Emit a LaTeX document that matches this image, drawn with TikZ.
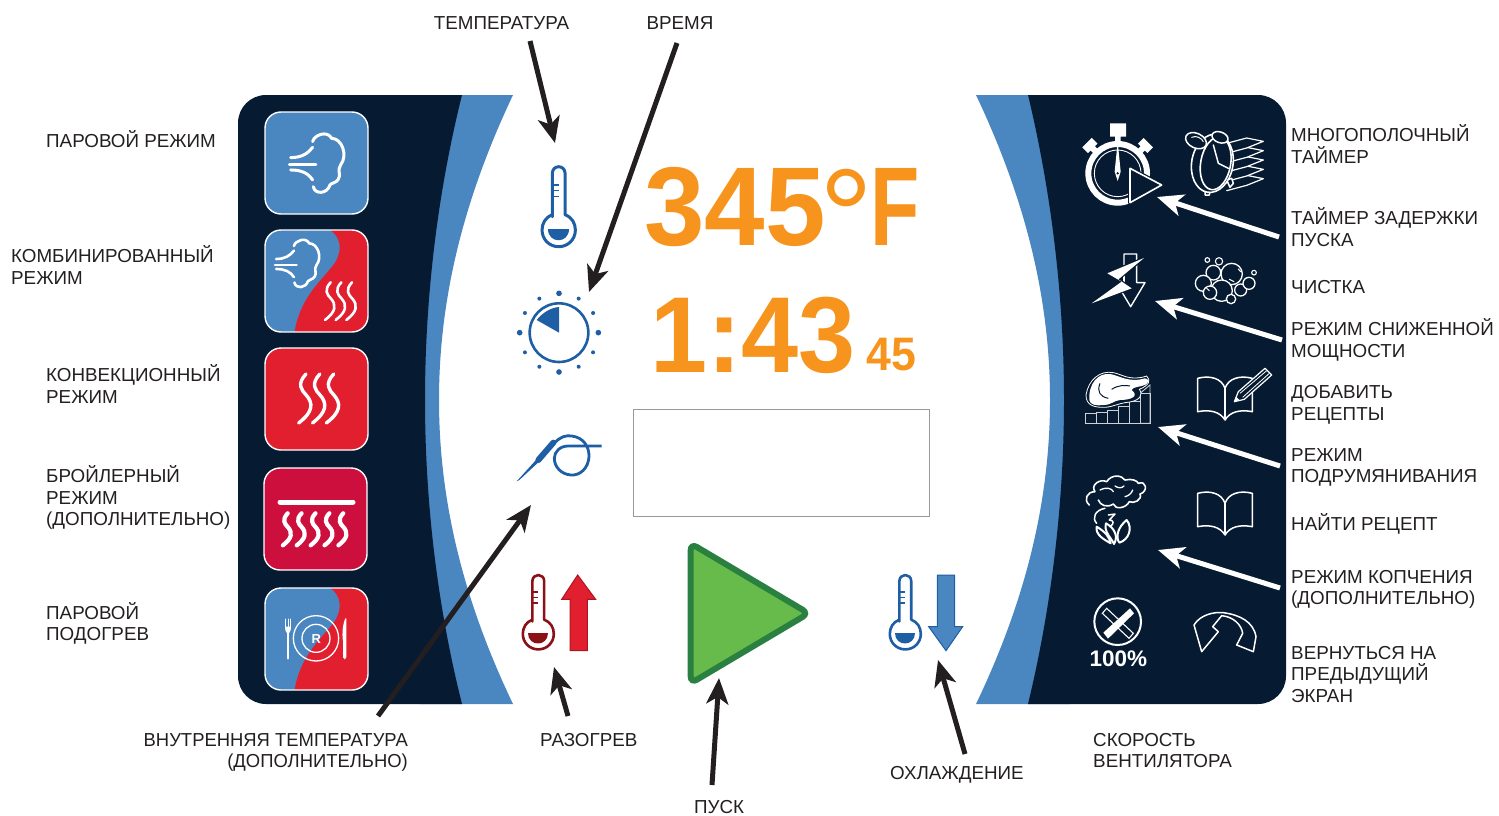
\documentclass[tikz,border=0pt]{standalone}
\usepackage{fontspec}
\setmainfont{Liberation Sans}
\usetikzlibrary{arrows.meta}
\definecolor{navy}{HTML}{061A31}
\definecolor{panelblue}{HTML}{4A86C0}
\definecolor{hotred}{HTML}{E11F2E}
\definecolor{crimson}{HTML}{CC0F3D}
\definecolor{iconblue}{HTML}{1E5EA4}
\definecolor{darkred}{HTML}{8B1117}
\definecolor{ink}{HTML}{231F20}
\definecolor{orange}{HTML}{F7941D}
\definecolor{playgreen}{HTML}{66BB4A}
\definecolor{playedge}{HTML}{2A8040}
\tikzset{
  lbl/.style={inner sep=0pt,text=ink,align=left,font=\fontsize{18.8}{21.5}\selectfont},
  lblr/.style={lbl,align=right},
  tile/.style={draw=white,line width=1.4pt,rounded corners=16pt,minimum width=103pt,minimum height=102pt,inner sep=0pt},
  blackarrow/.style={draw=ink,line width=5pt,-{Stealth[length=26pt,width=22pt,inset=7pt]}},
  whitearrow/.style={draw=white,line width=5pt,-{Stealth[length=26pt,width=22pt,inset=7pt]}},
  wline/.style={draw=white,line width=#1,line cap=round,line join=round},
  wline/.default=1pt,
  digits/.style={inner sep=0pt,text=orange,anchor=base west},
  zoomfrom/.style 2 args={shift={(#1,#2)},scale=1/3}
}
% thermometer: x, y (top centre), scale, colour, line width
\newcommand\thermoicon[5]{%
 \begin{scope}[shift={(#1,#2)},scale=#3/3]
  \draw[#4,line width=#5,line join=round,fill=white] (-19,150) -- (-19,19) .. controls (-19,8) and (-10,0) .. (0,0) .. controls (10,0) and (19,8) .. (19,19) -- (19,144) .. controls (40,152) and (50,170) .. (50,190) .. controls (50,218) and (28,240) .. (0,240) .. controls (-28,240) and (-50,218) .. (-50,190) .. controls (-50,170) and (-40,152) .. (-19,144) -- cycle;
  \draw[#4,line width=1.2pt] (-19,55) -- (0,55) (-19,72) -- (0,72) (-19,90) -- (0,90);
  \fill[#4] (-32,188) .. controls (-32,231) and (32,231) .. (32,188) -- cycle;
 \end{scope}}
% waves: x, y, scale, spacing, count, width
\newcommand\waveset[6]{%
 \begin{scope}[shift={(#1,#2)},scale=#3/3]
  \foreach \k in {1,...,#5}{
   \draw[wline=#6] ({(\k-1)*#4},0) .. controls +(-22,23) and +(-10,-10) .. ({(\k-1)*#4},48) .. controls +(18,20) and +(33,-25) .. ({(\k-1)*#4-17},113);
  }
 \end{scope}}
% steam puff, drawn in zoom units
\newcommand\steamicon[4]{%
 \begin{scope}[shift={(#1,#2)},scale=#3/3,shift={(-148,-130)}]
  \draw[wline=#4] (218,155) .. controls (222,135) and (262,120) .. (275,145) .. controls (305,145) and (325,195) .. (302,225) .. controls (290,240) and (305,255) .. (295,268) .. controls (288,280) and (275,278) .. (270,285) .. controls (262,312) and (225,315) .. (220,290);
  \draw[wline=#4] (148,225) -- (228,225);
  \draw[wline=#4] (152,203) .. controls (185,203) and (205,190) .. (218,172);
  \draw[wline=#4] (152,240) .. controls (185,240) and (205,250) .. (218,270);
 \end{scope}}
\newcommand\redcurve[2]{%
 \begin{scope}[shift={(#1,#2)},scale=1/3]
  \fill[hotred] (195,-10) -- (195,0) .. controls (225,18) and (235,58) .. (210,98) .. controls (175,148) and (105,198) .. (88,310) -- (320,320) -- (320,-10) -- cycle;
 \end{scope}}
\newcommand\bookicon[1]{%
 \begin{scope}[shift={(1050,#1)},scale=1/3]
  \draw[wline=1.5pt] (443,85) .. controls (480,75) and (515,85) .. (525,115) .. controls (535,85) and (570,75) .. (607,85) -- (607,185) .. controls (570,178) and (540,185) .. (525,210) .. controls (510,185) and (480,178) .. (443,185) -- cycle;
  \draw[wline=1.2pt] (525,115) -- (525,205);
 \end{scope}}
\begin{document}
\begin{tikzpicture}[x=1pt,y=-1pt]
\useasboundingbox (0,0) rectangle (1499,816);
% panels
\fill[panelblue] (420,95) -- (513,95) .. controls (468,190) and (439,290) .. (439,400) .. controls (439,510) and (468,610) .. (513,704) -- (420,704) -- cycle;
\fill[navy] (266,95) -- (462,95) .. controls (437,195) and (425,300) .. (425,400) .. controls (425,500) and (437,605) .. (462,704) -- (266,704) .. controls (250.5,704) and (238,691.5) .. (238,676) -- (238,123) .. controls (238,107.5) and (250.5,95) .. (266,95) -- cycle;
\fill[panelblue] (1070,95) -- (976,95) .. controls (1021,190) and (1050,290) .. (1050,400) .. controls (1050,510) and (1021,610) .. (976,704) -- (1070,704) -- cycle;
\fill[navy] (1258,95) -- (1028,95) .. controls (1052,195) and (1064,300) .. (1064,400) .. controls (1064,500) and (1052,605) .. (1028,704) -- (1258,704) .. controls (1273.5,704) and (1286,691.5) .. (1286,676) -- (1286,123) .. controls (1286,107.5) and (1273.5,95) .. (1258,95) -- cycle;
% tiles
\node[tile,fill=panelblue] (t1) at (316.5,163) {};
\steamicon{289.3}{133.3}{1}{3pt}
\begin{scope}
 \clip[rounded corners=16pt] (265,230) rectangle (368,332);
 \fill[panelblue] (265,230) rectangle (368,332);
 \redcurve{265}{230}
\end{scope}
\node[tile] (t2) at (316.5,281) {};
\steamicon{275}{239.3}{0.81}{2.6pt}
\waveset{330.7}{282.3}{1}{32}{3}{2.6pt}
\node[tile,fill=hotred] (t3) at (316.5,399) {};
\waveset{306}{374}{1.3}{32}{3}{3.4pt}
\node[tile,fill=crimson] (t4) at (315.5,519) {};
\draw[wline=5pt] (280,502) -- (353,502);
\waveset{287.7}{513.3}{0.85}{49}{5}{4.2pt}
\begin{scope}
 \clip[rounded corners=16pt] (265,588) rectangle (368,690);
 \fill[panelblue] (265,588) rectangle (368,690);
 \redcurve{265}{588}
\end{scope}
\node[tile] (t5) at (316.5,639) {};
\begin{scope}[zoomfrom={240}{400}]
 \draw[white,line width=1.3pt] (228,715) circle (68) (228,715) circle (42);
 \node[inner sep=0pt,text=white,font=\bfseries\fontsize{13}{13}\selectfont] (plateR) at (229,716) {R};
 \draw[wline=2.6pt] (144,700) -- (144,775);
 \draw[wline=0.9pt] (137,657) -- (137,685) (144,657) -- (144,685) (151,657) -- (151,685);
 \fill[white] (135,680) -- (153,680) .. controls (153,695) and (147,700) .. (144,702) .. controls (141,700) and (135,695) .. (135,680) -- cycle;
 \fill[white] (316,655) .. controls (305,680) and (307,715) .. (309,722) -- (309,772) .. controls (309,780) and (319,780) .. (319,772) -- (319,655) -- cycle;
\end{scope}
% left column icons
\thermoicon{558.7}{166.7}{1}{iconblue}{3pt}
\begin{scope}[zoomfrom={500}{150}]
 \draw[iconblue,line width=2.6pt] (177,548) circle (88);
 \fill[iconblue] (177,548) -- (177,471) .. controls (152,473) and (128,488) .. (110,510) -- cycle;
 \foreach \a in {0,90,180,270} \fill[iconblue] (177,548) ++(\a:118) circle (8.5);
 \foreach \a in {30,60,120,150,210,240,300,330} \fill[iconblue] (177,548) ++(\a:118) circle (6);
 \draw[iconblue,line width=2.8pt,line join=round] (165,878) .. controls (180,860) and (200,855) .. (215,858) .. controls (250,862) and (268,890) .. (267,920) .. controls (265,955) and (240,977) .. (213,975) .. controls (183,973) and (163,950) .. (163,925) .. controls (163,905) and (180,888) .. (205,888) -- (305,888);
 \draw[iconblue,line width=6pt,line cap=round] (115,930) -- (160,878);
 \fill[iconblue] (50,994) -- (108,930) -- (114,938) -- (58,990) -- cycle;
\end{scope}
% display
\node[digits,font=\bfseries\fontsize{112}{112}\selectfont,xscale=0.97] (tempval) at (644,245) {345};
\node[digits,font=\fontsize{135}{135}\selectfont] (tempdeg) at (819,263) {°};
\node[digits,font=\bfseries\fontsize{112}{112}\selectfont,xscale=0.72] (tempunit) at (870,245) {F};
\node[digits,font=\bfseries\fontsize{108}{108}\selectfont,xscale=0.95] (timeval) at (650,372) {1:43};
\node[digits,font=\bfseries\fontsize{47}{47}\selectfont,xscale=0.95] (secval) at (866,370) {45};
\node[draw=black!40,line width=1pt,minimum width=296pt,minimum height=107pt,inner sep=0pt] (msgbox) at (781.5,462.5) {};
% bottom centre
\thermoicon{538.3}{575}{0.93}{darkred}{2.6pt}
\begin{scope}[zoomfrom={500}{530}]
 \draw[hotred!75!black,fill=hotred,line width=1pt,line join=miter] (233,135) -- (287,208) -- (262,208) -- (262,362) -- (210,362) -- (210,208) -- (185,208) -- cycle;
 \draw[iconblue,fill=panelblue,line width=1pt] (1312,135) -- (1364,135) -- (1364,290) -- (1388,290) -- (1338,362) -- (1286,290) -- (1312,290) -- cycle;
\end{scope}
\thermoicon{905.3}{575}{0.93}{iconblue}{2.6pt}
\begin{scope}[zoomfrom={500}{530}]
 \draw[draw=playedge,fill=playgreen,line width=6pt,rounded corners=7pt] (572,40) -- (926,250) -- (572,460) -- cycle;
\end{scope}
% right icons: stopwatch
\begin{scope}[zoomfrom={1050}{100}]
 \draw[white,line width=6pt] (203,220) circle (88);
 \draw[white,line width=0.9pt] (203,220) circle (70);
 \fill[white] (180,70) rectangle (228,110) (195,108) rectangle (212,130);
 \foreach \a in {-45,45}{
  \begin{scope}[shift={(203,220)},rotate=\a]
   \fill[white] (-9,-112) rectangle (9,-90) (-20,-130) rectangle (20,-106);
  \end{scope}}
 \fill[white] (203,125) -- (212,215) -- (203,243) -- (194,215) -- cycle;
 \fill[navy] (203,220) circle (4);
 \draw[navy,fill=navy,line width=4pt,line join=round] (240,205) -- (335,255) -- (240,308) -- cycle;
 \draw[white,fill=navy,line width=1.6pt,line join=round] (240,205) -- (335,255) -- (240,308) -- cycle;
 % alarm clock and sheets
 \foreach \o in {112,84,56,28,0}{
  \draw[wline=1.2pt,fill=navy] (530,{130+\o}) -- (590,{114+\o}) -- (640,{124+\o}) -- (590,{144+\o}) -- (530,{160+\o});
 }
 \draw[wline=1.5pt,fill=navy] (465,240) -- (465,285) -- (478,285) -- (485,250) -- cycle;
 \draw[wline=1.5pt,fill=navy] (530,240) -- (540,262) -- (550,250) -- (545,235) -- cycle;
 \draw[wline=1.6pt,fill=navy,rotate around={-10:(487,190)}] (487,190) ellipse (62 and 88);
 \draw[wline=1.6pt,fill=navy,rotate around={-10:(497,190)}] (497,190) ellipse (45 and 80);
 \draw[wline=1.5pt] (490,135) -- (505,190) -- (535,205);
 \draw[wline=1.5pt,fill=navy,rotate around={-20:(510,112)}] (510,112) ellipse (25 and 16);
 \draw[wline=1.5pt,fill=navy,rotate around={-25:(438,122)}] (438,122) ellipse (33 and 22);
 \draw[wline=1pt] (425,112) .. controls (440,105) and (455,115) .. (460,125);
 % power arrow
 \draw[wline=1.4pt] (222,495) -- (222,462) -- (260,462) -- (260,548) -- (285,548) -- (242,620) -- (215,575);
 \draw[wline=1.4pt] (222,525) -- (222,548);
 \draw[navy,line width=2.5pt,line join=round] (282,474) -- (172,520) -- (215,545) -- (125,610) -- (245,565) -- (205,538) -- cycle;
 \fill[white] (282,474) -- (172,520) -- (215,545) -- (125,610) -- (245,565) -- (205,538) -- cycle;
 % bubbles
 \foreach \cx/\cy/\r in {545/522/32,490/518/22,460/550/24,572/570/18,597/550/18,515/572/32,480/578/20,543/597/14}{
  \draw[white,line width=1.3pt,fill=navy] (\cx,\cy) circle (\r);
 }
 \foreach \cx/\cy/\r in {472/480/7,507/484/11,612/518/7}{\draw[white,line width=1.1pt] (\cx,\cy) circle (\r);}
 \draw[wline=1pt] (538,538) -- (552,545) (565,507) -- (572,515) (470,565) -- (478,572);
\end{scope}
\bookicon{350}
\bookicon{465}
\begin{scope}[zoomfrom={1050}{350}]
 % chicken chart
 \foreach \bx/\top in {107/190,140/187,173/180,205/170,238/155,270/130}{
  \draw[white!80!navy,line width=0.9pt] (\bx,\top) rectangle ({\bx+32},220);
 }
 \draw[white!80!navy,line width=0.9pt] (270,130) -- (300,105) -- (300,220) -- (270,220);
 \draw[white,line width=0.8pt,fill=navy,line join=round] (108,135) .. controls (115,90) and (150,60) .. (190,68) .. controls (215,72) and (240,95) .. (290,78) .. controls (302,90) and (300,105) .. (268,118) .. controls (280,135) and (270,150) .. (240,156) .. controls (200,160) and (190,172) .. (160,172) .. controls (130,172) and (108,165) .. (108,135) -- cycle;
 \fill[white] (118,150) .. controls (115,100) and (145,68) .. (180,72) .. controls (205,75) and (235,100) .. (285,85) .. controls (298,85) and (297,100) .. (285,105) .. controls (265,112) and (250,110) .. (245,120) .. controls (270,140) and (240,150) .. (210,150) .. controls (190,152) and (185,165) .. (160,165) .. controls (140,168) and (120,165) .. (118,150) -- cycle;
 \draw[navy,line width=1pt] (150,100) .. controls (140,125) and (150,140) .. (175,145) (185,118) .. controls (205,105) and (225,105) .. (240,108);
 % pencil
 \draw[white,line width=1.2pt,fill=navy,line join=round] (553,155) -- (565,125) -- (645,55) -- (665,75) -- (583,148) -- cycle;
 \draw[white,line width=0.8pt] (570,130) -- (650,62) (578,142) -- (658,70);
 \fill[white] (553,155) -- (558,140) -- (568,150) -- cycle;
 % smoke
 \draw[wline=1.6pt] (118,465) .. controls (100,450) and (110,425) .. (135,425) .. controls (120,405) and (150,385) .. (170,395) .. controls (185,372) and (215,375) .. (225,390) .. controls (245,385) and (262,392) .. (265,400) .. controls (290,390) and (295,425) .. (270,432) .. controls (278,450) and (250,462) .. (238,455) .. controls (228,475) and (195,480) .. (190,462) .. controls (170,475) and (150,465) .. (145,450);
 \draw[wline=1.3pt] (150,420) .. controls (170,410) and (185,415) .. (190,425) (195,408) .. controls (205,415) and (215,415) .. (222,408) (225,440) .. controls (235,438) and (245,430) .. (248,420);
 \draw[wline=1.5pt] (165,475) .. controls (135,480) and (125,505) .. (140,520) (175,495) -- (195,492) -- (178,510) .. controls (190,510) and (195,520) .. (180,530);
 \draw[wline=2pt] (140,530) .. controls (135,555) and (165,570) .. (182,580) .. controls (178,560) and (165,545) .. (140,530);
 \draw[wline=2pt] (168,520) .. controls (160,545) and (185,565) .. (192,582) .. controls (205,560) and (195,535) .. (168,520);
 \draw[wline=2pt] (230,510) .. controls (205,530) and (195,560) .. (208,578) .. controls (235,570) and (250,535) .. (230,510);
 % fan
 \draw[white,line width=2pt] (203,815) circle (70);
 \draw[white,fill=navy,line width=1.1pt] (157,790) -- (170,775) -- (250,850) -- (237,865) -- cycle;
 \fill[white] (160,848) -- (240,775) -- (252,790) -- (174,866) -- cycle;
 \node[inner sep=0pt,text=white,font=\bfseries\fontsize{22.5}{22.5}\selectfont] (fanpct) at (205,925) {100\%};
 % back arrow
 \draw[wline=1.5pt] (455,905) -- (432,825) .. controls (450,795) and (490,785) .. (520,788) .. controls (570,795) and (610,815) .. (618,860) -- (610,905) -- (560,885) -- (578,850) .. controls (575,825) and (550,800) .. (515,797) -- (488,830) -- (505,845) -- cycle;
\end{scope}
% labels
\node[lbl,anchor=center] (lTemp) at (501.5,23) {ТЕМПЕРАТУРА};
\node[lbl,anchor=center] (lTime) at (680,23) {ВРЕМЯ};
\node[lbl,anchor=west] (lSteam) at (46,139) {ПАРОВОЙ РЕЖИМ};
\node[lbl,anchor=west] (lCombi) at (11,265) {КОМБИНИРОВАННЫЙ\\РЕЖИМ};
\node[lbl,anchor=west] (lConv) at (46,384) {КОНВЕКЦИОННЫЙ\\РЕЖИМ};
\node[lbl,anchor=west] (lBroil) at (46,497.5) {БРОЙЛЕРНЫЙ\\РЕЖИМ\\(ДОПОЛНИТЕЛЬНО)};
\node[lbl,anchor=west] (lRegen) at (46,623.5) {ПАРОВОЙ\\ПОДОГРЕВ};
\node[lblr,anchor=east,xscale=0.98] (lProbe) at (408,752.5) {ВНУТРЕННЯЯ ТЕМПЕРАТУРА\\(ДОПОЛНИТЕЛЬНО)};
\node[lbl,anchor=west] (lHeat) at (540,740) {РАЗОГРЕВ};
\node[lbl,anchor=west] (lStart) at (694,807) {ПУСК};
\node[lbl,anchor=west] (lCool) at (890,775) {ОХЛАЖДЕНИЕ};
\node[lbl,anchor=west] (lFan) at (1093,750.5) {СКОРОСТЬ\\ВЕНТИЛЯТОРА};
\node[lbl,anchor=west] (lMulti) at (1291,144) {МНОГОПОЛОЧНЫЙ\\ТАЙМЕР};
\node[lbl,anchor=west] (lDelay) at (1291,227) {ТАЙМЕР ЗАДЕРЖКИ\\ПУСКА};
\node[lbl,anchor=west] (lClean) at (1291,287) {ЧИСТКА};
\node[lbl,anchor=west] (lLow) at (1291,340) {РЕЖИМ СНИЖЕННОЙ\\МОЩНОСТИ};
\node[lbl,anchor=west] (lAdd) at (1291,405) {ДОБАВИТЬ\\РЕЦЕПТЫ};
\node[lbl,anchor=west] (lBrown) at (1291,467.5) {РЕЖИМ\\ПОДРУМЯНИВАНИЯ};
\node[lbl,anchor=west] (lFind) at (1291,524) {НАЙТИ РЕЦЕПТ};
\node[lbl,anchor=west] (lSmoke) at (1291,589.5) {РЕЖИМ КОПЧЕНИЯ\\(ДОПОЛНИТЕЛЬНО)};
\node[lbl,anchor=west] (lBack) at (1291,674.5) {ВЕРНУТЬСЯ НА\\ПРЕДЫДУЩИЙ\\ЭКРАН};
% connector ends
\coordinate (aTemp0) at (530,41); \coordinate (aTemp1) at (555,143);
\coordinate (aTime0) at (677,43); \coordinate (aTime1) at (589,292);
\coordinate (aProbe0) at (378,716); \coordinate (aProbe1) at (531,505);
\coordinate (aHeat0) at (568,716); \coordinate (aHeat1) at (554,667);
\coordinate (aStart0) at (712,785); \coordinate (aStart1) at (719,678);
\coordinate (aCool0) at (965,754); \coordinate (aCool1) at (938,660);
\coordinate (aDelay0) at (1279,237); \coordinate (aDelay1) at (1157,197);
\coordinate (aLow0) at (1282,340); \coordinate (aLow1) at (1155,301);
\coordinate (aBrown0) at (1280,466); \coordinate (aBrown1) at (1158,427);
\coordinate (aSmoke0) at (1280,588); \coordinate (aSmoke1) at (1158,550);
\draw[blackarrow] (aTemp0) -- (aTemp1);
\draw[blackarrow] (aTime0) -- (aTime1);
\draw[blackarrow] (aProbe0) -- (aProbe1);
\draw[blackarrow] (aHeat0) -- (aHeat1);
\draw[blackarrow] (aStart0) -- (aStart1);
\draw[blackarrow] (aCool0) -- (aCool1);
\draw[whitearrow] (aDelay0) -- (aDelay1);
\draw[whitearrow] (aLow0) -- (aLow1);
\draw[whitearrow] (aBrown0) -- (aBrown1);
\draw[whitearrow] (aSmoke0) -- (aSmoke1);
\end{tikzpicture}
\end{document}
